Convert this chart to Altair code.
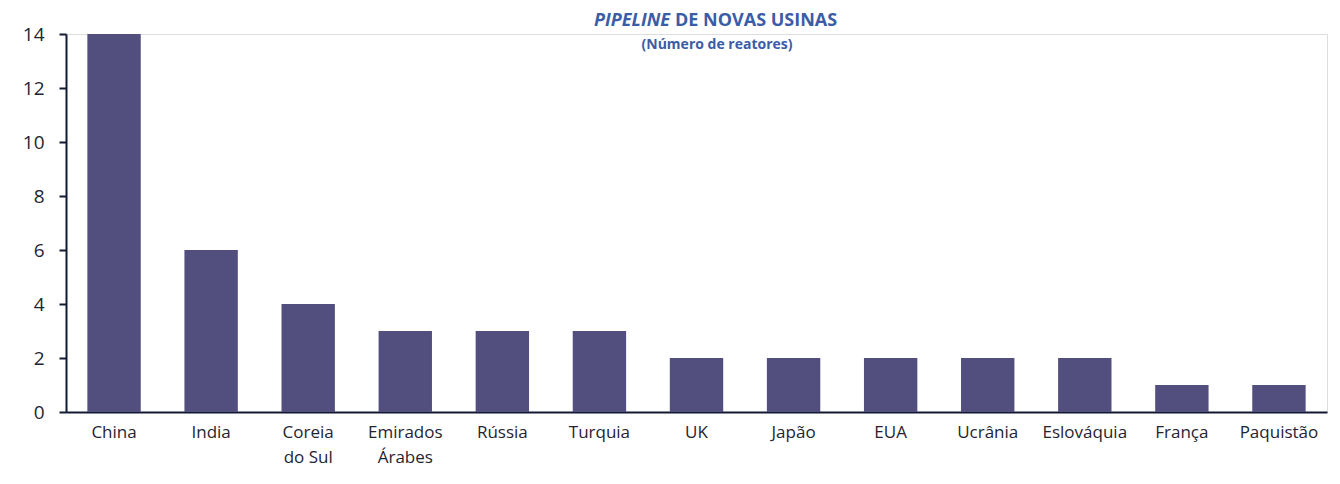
import altair as alt
import pandas as pd

countries = ["China", "India", "Coreia do Sul", "Emirados Árabes", "Rússia", "Turquia", "UK",
             "Japão", "EUA", "Ucrânia", "Eslováquia", "França", "Paquistão"]
reactors = [14, 6, 4, 3, 3, 3, 2, 2, 2, 2, 2, 1, 1]
title_italic = ["PIPELINE"]
title_rest = ["DE NOVAS USINAS"]
subtitle = ["(Número de reatores)"]

df = pd.DataFrame({"pais": countries, "reatores": reactors})

FONT = "Open Sans"
AXIS = "#111a33"
BLUE = "#3b5ca6"

label_expr = ("datum.label == 'Coreia do Sul' ? ['Coreia', 'do Sul'] : "
              "datum.label == 'Emirados Árabes' ? ['Emirados', 'Árabes'] : datum.label")

bars = alt.Chart(df).mark_bar(color="#524f7e").encode(
    x=alt.X("pais:N", sort=countries, title=None,
            scale=alt.Scale(paddingInner=0.45, paddingOuter=0.22),
            axis=alt.Axis(labelAngle=0, labelExpr=label_expr, ticks=False,
                          domainColor=AXIS, domainWidth=2, labelFont=FONT,
                          labelFontSize=17, labelColor="#1f2433", labelPadding=12,
                          labelLineHeight=25, labelBaseline="top")),
    y=alt.Y("reatores:Q", title=None,
            scale=alt.Scale(domain=[0, 14]),
            axis=alt.Axis(values=[0, 2, 4, 6, 8, 10, 12, 14], grid=False,
                          domainColor=AXIS, domainWidth=2, tickColor=AXIS,
                          tickWidth=2, tickSize=7, labelFont=FONT, labelFontSize=19,
                          labelColor="#1f2433", labelPadding=15)),
)

t1 = alt.Chart(pd.DataFrame({"t": title_italic})).mark_text(
    font=FONT, fontSize=18, fontWeight="bold", fontStyle="italic", color=BLUE,
    align="right", baseline="alphabetic"
).encode(text="t:N", x=alt.value(604), y=alt.value(-8))

t2 = alt.Chart(pd.DataFrame({"t": title_rest})).mark_text(
    font=FONT, fontSize=18, fontWeight="bold", color=BLUE,
    align="left", baseline="alphabetic"
).encode(text="t:N", x=alt.value(609), y=alt.value(-8))

t3 = alt.Chart(pd.DataFrame({"t": subtitle})).mark_text(
    font=FONT, fontSize=14, fontWeight="bold", color=BLUE,
    align="center", baseline="alphabetic"
).encode(text="t:N", x=alt.value(651), y=alt.value(15))

chart = alt.layer(bars, t1, t2, t3).properties(
    width=1261, height=378,
    autosize=alt.AutoSizeParams(type="none"),
    padding={"left": 66, "top": 34, "right": 13, "bottom": 72},
).configure_view(stroke=None).configure(background="white")

chart.save("out.html", embed_options={"renderer": "svg", "actions": False})
